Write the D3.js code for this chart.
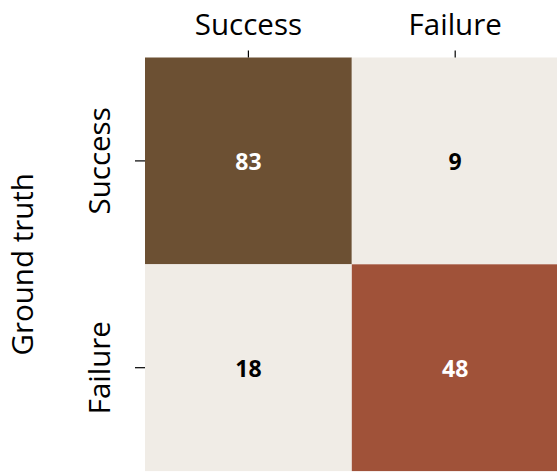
<!DOCTYPE html>
<html>
<head>
<meta charset="utf-8">
<script src="https://cdn.jsdelivr.net/npm/d3@7"></script>
<style>
  html, body { margin: 0; padding: 0; background: #ffffff; }
  svg { display: block; }
  text { font-family: "Open Sans", "Noto Sans", sans-serif; }
</style>
</head>
<body>
<svg id="chart" width="557" height="472"></svg>
<script>
// Data
const predictedLabels = ["Success", "Failure"];
const truthLabels = ["Success", "Failure"];
const counts = [
  [83, 9],
  [18, 48]
];
const yAxisTitle = "Ground truth";

const svg = d3.select("#chart");
const margin = { left: 145, top: 57.5 };
const cell = 206.8;

const x = d3.scaleBand().domain(predictedLabels).range([margin.left, margin.left + cell * 2]).padding(0);
const y = d3.scaleBand().domain(truthLabels).range([margin.top, margin.top + cell * 2]).padding(0);

const cells = [];
truthLabels.forEach((t, i) => predictedLabels.forEach((p, j) => cells.push({ truth: t, pred: p, value: counts[i][j] })));

const light = "#f0ece6";
const colorScale = d3.scaleOrdinal()
  .domain(["Success", "Failure"])
  .range(["#6c5033", "#a05239"]);
const fill = d => d.truth === d.pred ? colorScale(d.truth) : light;
const textColor = d => d.truth === d.pred ? "#ffffff" : "#000000";

svg.append("g").selectAll("rect").data(cells).join("rect")
  .attr("x", d => x(d.pred))
  .attr("y", d => y(d.truth))
  .attr("width", x.bandwidth())
  .attr("height", y.bandwidth())
  .attr("fill", fill);

svg.append("g").selectAll("text").data(cells).join("text")
  .attr("x", d => x(d.pred) + x.bandwidth() / 2)
  .attr("y", d => y(d.truth) + y.bandwidth() / 2)
  .attr("text-anchor", "middle")
  .attr("dominant-baseline", "central")
  .attr("font-size", 23)
  .attr("font-weight", "bold")
  .attr("fill", textColor)
  .text(d => d.value);

// Top axis
const xAxis = svg.append("g")
  .attr("transform", `translate(0,${margin.top})`)
  .call(d3.axisTop(x).tickSize(7).tickPadding(16));
xAxis.select(".domain").remove();
xAxis.selectAll(".tick line").attr("stroke", "#000").attr("stroke-width", 1.2);
xAxis.selectAll(".tick text").attr("font-size", 29.5).attr("fill", "#000")
  .style("font-family", "'Open Sans', sans-serif");

// Left axis
const yAxis = svg.append("g")
  .attr("transform", `translate(${margin.left},0)`)
  .call(d3.axisLeft(y).tickSize(10).tickPadding(14));
yAxis.select(".domain").remove();
yAxis.selectAll(".tick line").attr("stroke", "#000").attr("stroke-width", 1.2);
yAxis.selectAll(".tick text")
  .attr("font-size", 29.5).attr("fill", "#000")
  .style("font-family", "'Open Sans', sans-serif")
  .attr("transform", "rotate(-90)")
  .attr("x", 0)
  .attr("y", -35)
  .attr("text-anchor", "middle")
  .attr("dy", "0");

svg.append("text")
  .attr("transform", `translate(33,${margin.top + cell}) rotate(-90)`)
  .attr("text-anchor", "middle")
  .attr("font-size", 29.5)
  .attr("fill", "#000")
  .text(yAxisTitle);
</script>
</body>
</html>
